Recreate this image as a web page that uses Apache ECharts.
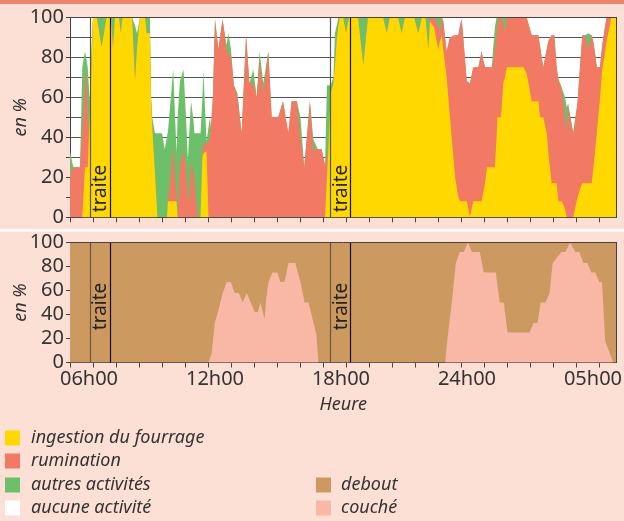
<!DOCTYPE html>
<html>
<head>
<meta charset="utf-8">
<script src="https://cdn.jsdelivr.net/npm/echarts@6/dist/echarts.min.js"></script>
<style>
  html, body { margin: 0; padding: 0; background: #fce0d6; }
  #main { width: 624px; height: 521px; }
</style>
</head>
<body>
<div id="main"></div>
<script>
// temps en heures (24+ = lendemain)
const heures = [
  5.09, 5.19, 5.26, 5.57, 5.68, 5.74, 5.81, 5.86, 5.94, 6.03,
  6.12, 6.19, 6.37, 6.60, 6.84, 7.05, 7.14, 7.24, 7.43, 7.51,
  7.60, 8.05, 8.19, 8.29, 8.43, 8.67, 8.74, 8.90, 8.95, 9.01,
  9.14, 9.26, 9.48, 9.60, 9.71, 9.76, 10.01, 10.10, 10.17, 10.22,
  10.33, 10.50, 10.62, 10.71, 10.76, 10.86, 10.98, 11.02, 11.18, 11.31,
  11.40, 11.45, 11.52, 11.60, 11.69, 11.76, 11.83, 11.90, 12.00, 12.16,
  12.36, 12.55, 12.64, 12.76, 12.90, 13.07, 13.27, 13.48, 13.64, 13.82,
  13.99, 14.12, 14.30, 14.54, 14.70, 15.01, 15.24, 15.49, 15.65, 15.90,
  16.07, 16.25, 16.52, 16.68, 16.90, 17.08, 17.24, 17.33, 17.40, 17.51,
  17.64, 17.71, 17.80, 17.88, 17.95, 18.10, 18.24, 18.38, 18.81, 19.06,
  19.29, 20.00, 20.18, 20.33, 20.71, 20.89, 21.05, 21.48, 21.68, 21.86,
  22.02, 22.16, 22.24, 22.43, 22.63, 22.71, 22.80, 22.87, 23.03, 23.19,
  23.27, 23.43, 23.59, 23.67, 23.75, 23.82, 23.99, 24.07, 24.14, 24.30,
  24.54, 24.70, 24.76, 24.86, 24.95, 25.18, 25.25, 25.33, 25.41, 25.45,
  25.50, 25.62, 25.73, 25.81, 25.90, 26.68, 26.84, 27.08, 27.40, 27.48,
  27.63, 27.80, 27.87, 28.03, 28.16, 28.27, 28.35, 28.51, 28.59, 28.67,
  28.75, 28.82, 29.06, 29.22, 29.27, 29.38, 29.49, 29.62, 29.78, 29.94,
  30.01, 30.10, 30.18, 30.33, 30.44, 30.57, 30.65, 30.88, 31.12
];
// % des animaux
const fourrage = [
  0, 0, 0, 0, 0, 12, 25, 25, 25, 25,
  75, 100, 100, 85, 100, 100, 84, 100, 100, 92,
  100, 100, 68, 85, 100, 100, 92, 92, 60, 45,
  22, 0, 0, 0, 0, 8, 8, 8, 8, 0,
  0, 0, 0, 0, 0, 0, 0, 0, 0, 0,
  30, 32, 33, 33, 0, 0, 0, 0, 0, 0,
  0, 0, 0, 0, 0, 0, 0, 0, 0, 0,
  0, 0, 0, 0, 0, 0, 0, 0, 0, 0,
  0, 0, 0, 0, 0, 0, 0, 20, 34, 62,
  67, 75, 89, 96, 100, 100, 92, 100, 100, 76,
  100, 100, 92, 100, 100, 92, 100, 100, 92, 100,
  100, 84, 98, 95, 84, 88, 91, 84, 70, 50,
  40, 20, 10, 8, 8, 8, 8, 4, 0, 8,
  8, 8, 8, 17, 25, 25, 25, 25, 40, 50,
  50, 50, 67, 70, 75, 75, 72, 58, 58, 50,
  50, 42, 33, 17, 17, 17, 8, 8, 8, 4,
  0, 0, 0, 8, 10, 14, 17, 17, 17, 17,
  17, 33, 33, 59, 74, 82, 88, 100, 100
];
const rumination = [
  18, 25, 25, 25, 45, 43, 45, 48, 30, 0,
  0, 0, 0, 0, 0, 0, 0, 0, 0, 0,
  0, 0, 0, 0, 0, 0, 0, 0, 0, 0,
  0, 0, 0, 0, 0, 0, 27, 12, 2, 0,
  27, 33, 25, 10, 8, 28, 22, 18, 0, 0,
  5, 4, 5, 3, 35, 40, 40, 60, 99, 84,
  99, 84, 84, 80, 66, 60, 42, 91, 67, 67,
  60, 79, 62, 83, 50, 50, 58, 42, 58, 58,
  40, 25, 58, 34, 34, 34, 26, 10, 0, 0,
  0, 0, 0, 0, 0, 0, 0, 0, 0, 0,
  0, 0, 0, 0, 0, 0, 0, 0, 0, 0,
  0, 0, 2, 5, 12, 4, 9, 14, 13, 40,
  51, 71, 81, 88, 91, 82, 60, 63, 67, 67,
  67, 75, 71, 58, 50, 50, 53, 60, 52, 46,
  50, 50, 30, 22, 25, 25, 28, 33, 33, 41,
  25, 42, 55, 74, 74, 58, 61, 56, 50, 46,
  43, 55, 42, 46, 48, 61, 74, 74, 67, 74,
  71, 49, 42, 16, 12, 13, 12, 0, 0
];
const autres = [
  15, 3, 0, 0, 30, 24, 13, 7, 20, 33,
  10, 0, 0, 15, 0, 0, 16, 0, 0, 8,
  0, 0, 28, 7, 0, 0, 8, 8, 2, 5,
  20, 42, 42, 34, 40, 35, 39, 30, 22, 50,
  41, 41, 25, 18, 32, 30, 26, 24, 42, 42,
  25, 38, 17, 2, 10, 10, 2, 0, 0, 0,
  0, 2, 8, 4, 0, 2, 0, 0, 0, 7,
  0, 4, 5, 0, 0, 0, 0, 0, 0, 0,
  10, 0, 0, 5, 0, 0, 0, 36, 32, 4,
  3, 17, 7, 4, 0, 0, 8, 0, 0, 24,
  0, 0, 8, 0, 0, 8, 0, 0, 8, 0,
  0, 16, 0, 0, 4, 8, 0, 0, 0, 0,
  0, 0, 0, 0, 0, 0, 0, 0, 0, 0,
  0, 0, 0, 0, 0, 0, 7, 10, 8, 4,
  0, 0, 3, 8, 0, 0, 0, 0, 0, 0,
  0, 0, 0, 0, 0, 0, 0, 1, 6, 10,
  12, 2, 0, 0, 0, 0, 0, 0, 8, 0,
  0, 0, 0, 0, 0, 0, 0, 0, 0
];

const heuresPos = [
  5.09, 11.70, 11.84, 11.99, 12.14, 12.37, 12.56, 12.75, 12.94, 13.13,
  13.32, 13.51, 13.70, 13.89, 14.04, 14.17, 14.36, 14.43, 14.55, 14.74,
  14.97, 15.12, 15.31, 15.50, 15.82, 16.07, 16.26, 16.45, 16.64, 16.83,
  16.92, 22.96, 23.09, 23.28, 23.47, 23.66, 23.85, 24.04, 24.23, 24.61,
  24.80, 25.37, 25.56, 25.75, 25.93, 26.98, 27.17, 27.36, 27.51, 27.74,
  27.93, 28.08, 28.27, 28.50, 28.69, 28.91, 29.16, 29.35, 29.54, 29.73,
  29.92, 30.11, 30.30, 30.43, 30.58, 30.77, 30.96, 31.12
];
const couche = [
  0, 0, 8, 33, 42, 58, 67, 67, 58, 58,
  50, 58, 50, 42, 42, 50, 36, 52, 67, 75,
  75, 67, 67, 83, 83, 67, 50, 50, 37, 23,
  0, 0, 23, 50, 83, 92, 92, 100, 92, 92,
  75, 75, 50, 50, 25, 25, 33, 33, 50, 50,
  58, 83, 87, 92, 92, 100, 92, 92, 83, 83,
  75, 75, 67, 67, 18, 9, 0, 0
];
const debout = [
  100, 100, 92, 67, 58, 42, 33, 33, 42, 42,
  50, 42, 50, 58, 58, 50, 64, 48, 33, 25,
  25, 33, 33, 17, 17, 33, 50, 50, 63, 77,
  100, 100, 77, 50, 17, 8, 8, 0, 8, 8,
  25, 25, 50, 50, 75, 75, 67, 67, 50, 50,
  42, 17, 13, 8, 8, 0, 8, 8, 17, 17,
  25, 25, 33, 33, 82, 91, 100, 100
];

const heureTicks = [6, 12, 18, 24, 30];
const heureLabels = ['06h00', '12h00', '18h00', '24h00', '05h00'];
const traites = [[6.05, 7.0], [17.5, 18.44]];

const FONT = 'Noto Sans';
const C = {
  fourrage: '#ffd800', rumination: '#f27a64', autres: '#6cc06a', aucune: '#ffffff',
  debout: '#cc9a61', couche: '#f9b8a5', bg: '#fce0d6', axis: '#444'
};

const xMin = 5.095, xMax = 31.12, tickStep = 23 / 21;
const xTicks = [];
for (let t = xMin; t < xMax - 0.5; t += tickStep) xTicks.push(t);

const cumul = (xs, ...arrs) => xs.map((x, i) => [x, arrs.reduce((s, a) => s + a[i], 0)]);

const area = (name, color, data, xi, yi, extra) => Object.assign({
  name, type: 'line', xAxisIndex: xi, yAxisIndex: yi, data,
  showSymbol: false, symbol: 'none', lineStyle: { width: 0 },
  areaStyle: { color, opacity: 1 }, itemStyle: { color }, silent: true
}, extra || {});

function traiteMarks(yMid, firstColor) {
  return {
    markLine: {
      silent: true, symbol: 'none', label: { show: false },
      data: traites.flatMap(t => [
        { xAxis: t[0], lineStyle: { color: firstColor, width: 1.2, type: 'solid' } },
        { xAxis: t[1], lineStyle: { color: '#111', width: 1.2, type: 'solid' } }
      ])
    },
    markPoint: {
      silent: true, symbol: 'circle', symbolSize: 0,
      data: traites.map(t => ({ name: 'traite', coord: [(t[0] + t[1]) / 2 + 0.04, yMid] })),
      label: { show: true, formatter: '{b}', rotate: 90, color: '#222', fontSize: 19, fontFamily: FONT }
    }
  };
}

function xAxe(gi, labels) {
  return {
    type: 'value', gridIndex: gi, min: xMin, max: xMax,
    axisLine: { show: true, onZero: false, lineStyle: { color: C.axis } },
    axisTick: { show: true, customValues: xTicks, length: 5, lineStyle: { color: C.axis } },
    axisLabel: labels ? {
      show: true, customValues: heureTicks, margin: 7,
      formatter: v => heureLabels[heureTicks.indexOf(Math.round(v))],
      color: '#333', fontSize: 20, fontFamily: FONT
    } : { show: false },
    splitLine: { show: false },
    name: labels ? 'Heure' : '', nameLocation: 'middle', nameGap: 33,
    nameTextStyle: { fontStyle: 'italic', fontSize: 18, color: '#333', fontFamily: FONT }
  };
}
function borderX(gi) {
  return { type: 'value', gridIndex: gi, position: 'top', min: xMin, max: xMax, z: 10,
    axisLine: { show: true, onZero: false, lineStyle: { color: C.axis } },
    axisTick: { show: false }, axisLabel: { show: false }, splitLine: { show: false } };
}
function yAxe(gi, minorLines) {
  return {
    type: 'value', gridIndex: gi, min: 0, max: 100, interval: minorLines ? 10 : 20,
    axisLine: { show: true, lineStyle: { color: C.axis } },
    axisTick: { show: true, length: 4, lineStyle: { color: C.axis } },
    axisLabel: { formatter: v => (v % 20 === 0 ? String(v) : ''), color: '#333', fontSize: 20, margin: 6, fontFamily: FONT },
    splitLine: { show: minorLines, lineStyle: { color: '#555', width: 1 } },
    name: 'en %', nameLocation: 'middle', nameGap: 40, nameRotate: 90, nameMoveOverlap: false,
    nameTextStyle: { fontStyle: 'italic', fontSize: 18, color: '#333', fontFamily: FONT }
  };
}
function borderY(gi) {
  return { type: 'value', gridIndex: gi, position: 'right', min: 0, max: 100, z: 10,
    axisLine: { show: true, lineStyle: { color: C.axis } },
    axisTick: { show: false }, axisLabel: { show: false }, splitLine: { show: false } };
}

const legendGauche = [
  ['ingestion du fourrage', C.fourrage], ['rumination', C.rumination],
  ['autres activités', C.autres], ['aucune activité', C.aucune]
];
const legendDroite = [['debout', C.debout], ['couché', C.couche]];
const rowsY = [438, 461, 485, 508];
const legendGraphics = [];
legendGauche.forEach((l, i) => {
  legendGraphics.push({ type: 'rect', shape: { x: 5, y: rowsY[i] - 7.5, width: 15, height: 15 }, style: { fill: l[1] } });
  legendGraphics.push({ type: 'text', x: 31, y: rowsY[i], style: { text: l[0], fill: '#333', font: 'italic 18px ' + FONT, verticalAlign: 'middle' } });
});
legendDroite.forEach((l, i) => {
  legendGraphics.push({ type: 'rect', shape: { x: 316, y: rowsY[i + 2] - 7.5, width: 15, height: 15 }, style: { fill: l[1] } });
  legendGraphics.push({ type: 'text', x: 341, y: rowsY[i + 2], style: { text: l[0], fill: '#333', font: 'italic 18px ' + FONT, verticalAlign: 'middle' } });
});

const chart = echarts.init(document.getElementById('main'));
chart.setOption({
  animation: false,
  backgroundColor: C.bg,
  textStyle: { fontFamily: FONT },
  grid: [
    { left: 70, top: 17.3, width: 546.5, height: 200, show: true, backgroundColor: '#fff', borderWidth: 0,
      containLabel: false, outerBoundsMode: 'none' },
    { left: 70, top: 242.5, width: 546.5, height: 120, show: false,
      containLabel: false, outerBoundsMode: 'none' }
  ],
  xAxis: [xAxe(0, false), xAxe(1, true), borderX(0), borderX(1)],
  yAxis: [yAxe(0, true), yAxe(1, false), borderY(0), borderY(1)],
  graphic: [
    { type: 'rect', shape: { x: 0, y: 0, width: 624, height: 4 }, style: { fill: '#f0846a' } },
    { type: 'rect', shape: { x: 0, y: 229, width: 624, height: 2.5 }, style: { fill: '#fff' } }
  ].concat(legendGraphics),
  series: [
    area('autres activités', C.autres, cumul(heures, fourrage, rumination, autres), 0, 0),
    area('rumination', C.rumination, cumul(heures, fourrage, rumination), 0, 0),
    area('ingestion du fourrage', C.fourrage, cumul(heures, fourrage), 0, 0, traiteMarks(14.4, '#555')),
    area('debout', C.debout, cumul(heuresPos, couche, debout), 1, 1),
    area('couché', C.couche, cumul(heuresPos, couche), 1, 1, traiteMarks(46.7, '#6e5636'))
  ]
});
</script>
</body>
</html>
